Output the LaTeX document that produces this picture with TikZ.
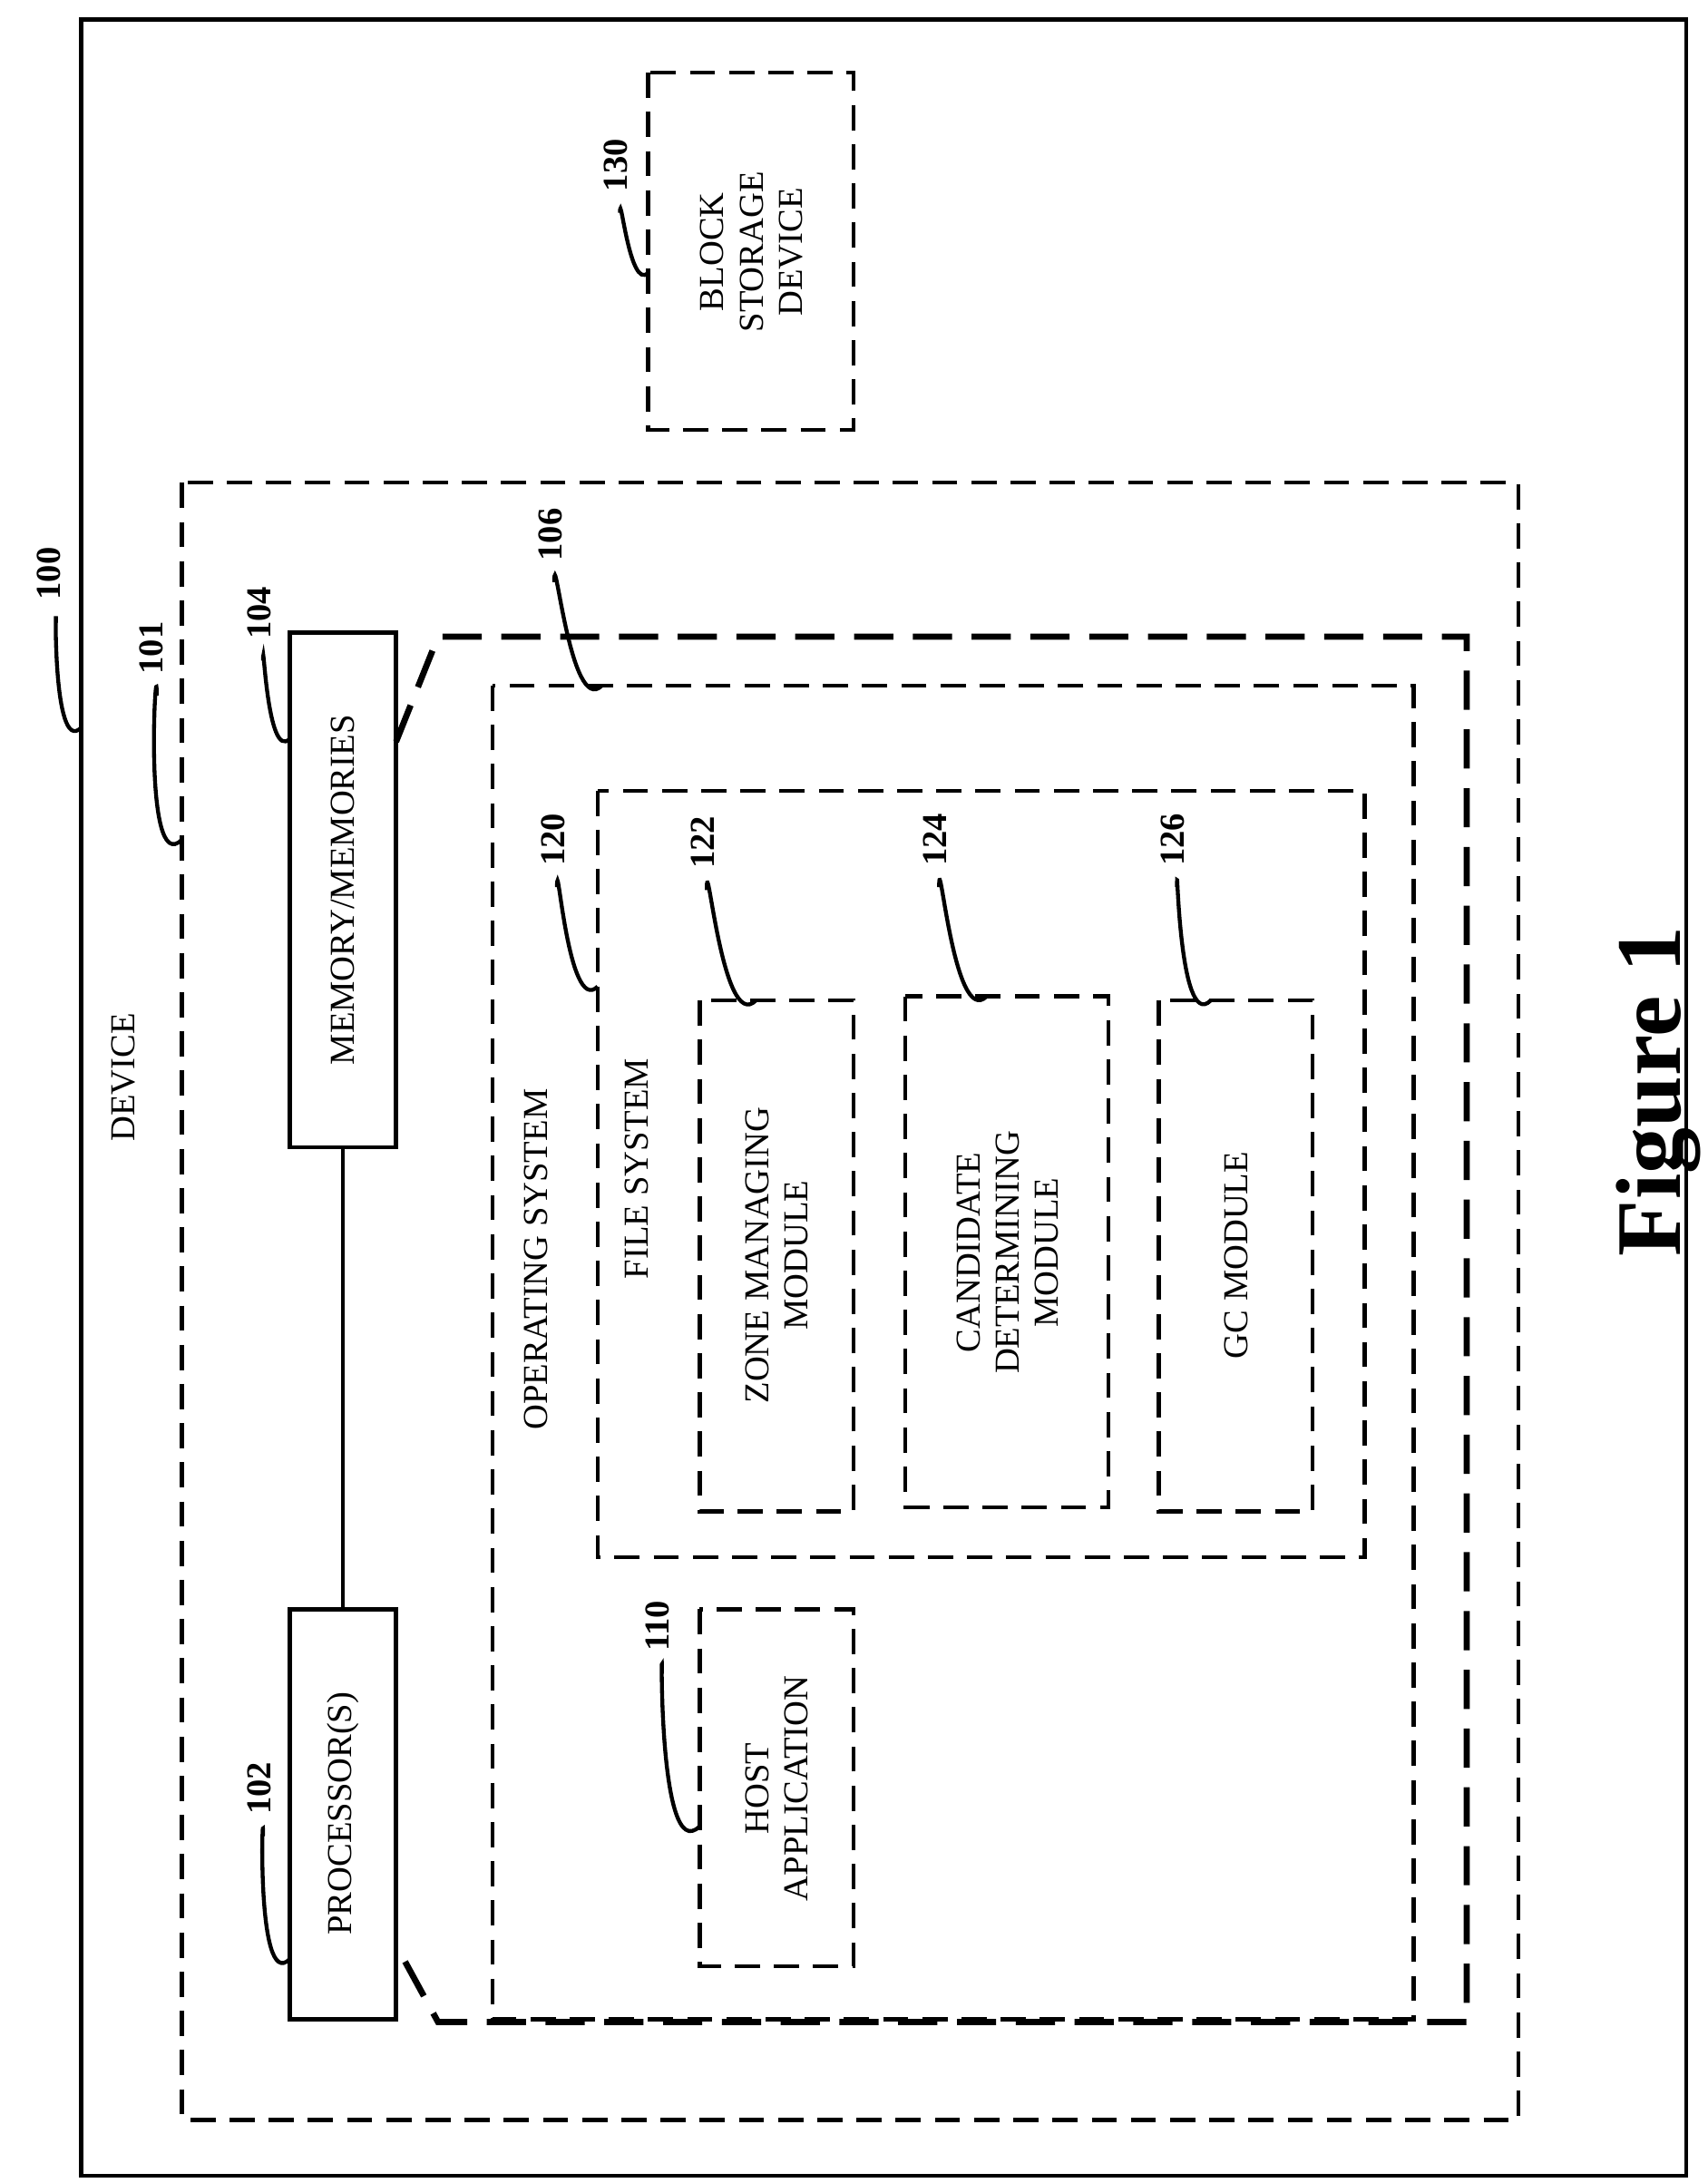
\documentclass[tikz,border=0pt]{standalone}
\usepackage{fontspec}
\setmainfont{Liberation Serif}
\usetikzlibrary{fit}
\begin{document}
\begin{tikzpicture}[x=0.5pt,y=-0.5pt,
 lbl/.style={rotate=90,font=\fontsize{12.5}{14}\selectfont,align=center},
 num/.style={rotate=90,font=\bfseries\fontsize{12.5}{14}\selectfont},
 dsh/.style={line width=1.4pt,dash pattern=on 9pt off 5pt},
 sol/.style={line width=1.4pt},
 lead/.style={line width=1.4pt}]
\useasboundingbox (0,0) rectangle (1220,1560);
\draw[sol] (58,14) rectangle (1205,1555);
\draw[dsh] (130,345) rectangle (1085,1515);
\node[lbl] (dev) at (88,770) {DEVICE};
\node[draw,sol,inner sep=0pt,fit={(207,452)(283,820)}] (mem) {};
\node[lbl] at (245,636) {MEMORY/MEMORIES};
\node[draw,sol,inner sep=0pt,fit={(207,1150)(283,1443)}] (proc) {};
\node[lbl] at (245,1296) {PROCESSOR(S)};
\draw[sol] (mem.south) -- (proc.north);
\draw[line width=2.2pt,dash pattern=on 14pt off 7pt] (283,530)--(313,455)--(1048,455)--(1048,1445)--(313,1445)--(283,1390);
\draw[dsh] (352,490) rectangle (1010,1443);
\node[lbl] at (383,900) {OPERATING SYSTEM};
\draw[dsh] (427,565) rectangle (975,1113);
\node[lbl] at (455,835) {FILE SYSTEM};
\draw[dsh] (500,715) rectangle (610,1080);
\node[lbl] at (555,897) {ZONE MANAGING\\MODULE};
\draw[dsh] (647,712) rectangle (792,1077);
\node[lbl] at (720,895) {CANDIDATE\\DETERMINING\\MODULE};
\draw[dsh] (828,715) rectangle (938,1080);
\node[lbl] at (883,897) {GC MODULE};
\draw[dsh] (500,1150) rectangle (610,1405);
\node[lbl] at (555,1278) {HOST\\APPLICATION};
\draw[dsh] (463,52) rectangle (610,307);
\node[lbl] at (537,180) {BLOCK\\STORAGE\\DEVICE};
\node[lbl,font=\bfseries\fontsize{33}{36}\selectfont] at (1185,780) {Figure 1};
% labels and leaders
\node[num] (n100) at (35,410) {100};
\draw[lead] (58,520) to[out=225,in=90] (40,445);
\node[num] (n101) at (108,463) {101};
\draw[lead] (130,600) to[out=225,in=90] (112,497);
\node[num] (n104) at (185,438) {104};
\draw[lead] (207,528) to[out=225,in=90] (188,472);
\node[num] (n102) at (185,1278) {102};
\draw[lead] (207,1400) to[out=225,in=90] (188,1312);
\node[num] (n106) at (393,382) {106};
\draw[lead] (430,490) to[out=225,in=90] (396,416);
\node[num] (n120) at (395,600) {120};
\draw[lead] (427,705) to[out=225,in=90] (398,634);
\node[num] (n122) at (502,602) {122};
\draw[lead] (540,715) to[out=225,in=90] (505,636);
\node[num] (n124) at (668,600) {124};
\draw[lead] (705,712) to[out=225,in=90] (671,634);
\node[num] (n126) at (838,600) {126};
\draw[lead] (865,715) to[out=225,in=90] (841,634);
\node[num] (n110) at (470,1162) {110};
\draw[lead] (500,1305) to[out=225,in=90] (473,1196);
\node[num] (n130) at (440,118) {130};
\draw[lead] (463,195) to[out=225,in=90] (443,152);
\end{tikzpicture}
\end{document}
